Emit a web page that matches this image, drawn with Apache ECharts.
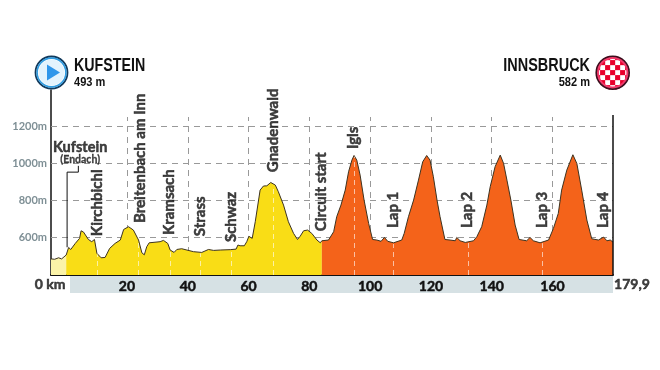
<!DOCTYPE html>
<html><head><meta charset="utf-8">
<style>html,body{margin:0;padding:0;background:#fff}#c{width:660px;height:370px}</style>
<script src="https://cdn.jsdelivr.net/npm/echarts@6/dist/echarts.min.js"></script>
</head><body><div id="c"></div>
<script>
const preStart = [[-5,482],[-4.7,485],[-3.8,480],[-2.5,488],[-1.5,482],[-0.9,481],[0,503]];
const neutralised = [[0,503],[0.8,544],[1.5,533],[3,566],[4.4,593],[4.9,634],[5.7,627],[7.3,587],[8.4,575],[9.3,587],[10.1,512],[11.5,488],[12.8,490],[14.3,539],[16.1,566],[17.8,584],[18.9,641],[20.5,656],[22.1,638],[23.8,584],[24.9,515],[25.7,504],[26.5,548],[27.3,569],[30.9,575],[32,582],[33.4,566],[34.2,530],[35.5,517],[36.4,533],[38,537],[39.7,530],[41.9,521],[44.6,517],[46.8,533],[48.5,528],[50.7,530],[54,532],[55.9,535],[56.5,557],[57.2,553],[57.8,546],[58.6,553],[59.4,575],[60.1,604],[61.2,593],[62.2,683],[63.8,854],[64.9,876],[66,877],[67.3,895],[68.8,881],[69.8,845],[71.5,773],[73.1,683],[74.8,620],[76.1,587],[77,605],[78.1,634],[79.4,638],[80.8,620],[82.5,584],[83.6,569],[84.1,580]];
const circuit = [[84.1,580],[86.3,584],[88,629],[89,710],[90.4,773],[91.8,854],[92.9,953],[94,1016],[94.7,1041],[95.6,1016],[96.7,935],[98,800],[99.5,674],[100.8,587],[102.2,584],[103.6,577],[104.7,598],[105.8,577],[107.7,569],[110.4,584],[111.2,620],[112.6,710],[114.3,800],[115.9,908],[117.3,1007],[118.6,1041],[119.7,1016],[120.8,926],[122,800],[123,710],[124.6,587],[126.3,584],[128,580],[128.5,598],[129.6,580],[131.3,571],[134,580],[135.1,602],[136.7,656],[138.4,773],[139.5,872],[141.1,980],[142.8,1043],[143.9,998],[145,908],[146.3,800],[147.7,665],[149,587],[151.5,580],[152.6,598],[153.7,580],[155.9,569],[158.7,584],[160.3,647],[161.9,728],[163,854],[164.7,962],[166.7,1045],[168,998],[169.6,854],[171.3,692],[172.9,591],[175.1,584],[176.8,600],[177.9,580],[179,584],[179.9,573]];
const townNames = ['Kirchbichl','Breitenbach am Inn','Kramsach','Strass','Schwaz','Gnadenwald','Circuit start','Igls','Lap 1','Lap 2','Lap 3','Lap 4'];
const townKm = [10.1,24.3,33.9,44.1,54.3,68.1,83.9,94.4,107.6,131.9,156.6,176.6];
const townBaseM = [605,676,611,605,573,951,632,1076,649,649,649,649];
const yellowDashKm = [10.1,23.8,34.2,44.1,54.3,68.1];
const orangeDashKm = [94.7,107.7,132.2,156.7];
const kmTicks = [20,40,60,80,100,120,140,160];
const elevTicks = [600,800,1000,1200];
const leaderPath = [[0.3,545],[0.3,951],[4,951],[4,985]];
const FONT = 'Lato,"Liberation Sans",sans-serif';
const MIN = 395, MAX = 1395, GRIDTOP = 1249;

function interp(p, km){
  for(let i=1;i<p.length;i++){ if(km<=p[i][0]){const a=p[i-1],b=p[i];return a[1]+(b[1]-a[1])*(km-a[0])/(b[0]-a[0]);} }
  return p[p.length-1][1];
}
const area = (name,data,color,dashKm) => ({
  type:'line',name,data,showSymbol:false,symbol:'none',z:3,
  lineStyle:{color:'#3d3320',width:1},areaStyle:{color,opacity:1,origin:'start'},
  markLine: dashKm ? {silent:true,symbol:'none',label:{show:false},z:4,
    lineStyle:{color:'rgba(255,255,255,0.6)',type:[5,4],width:1},
    data:dashKm.map(k=>[{coord:[k,MIN]},{coord:[k,interp(data,k)-6]}])} : undefined
});

const chart = echarts.init(document.getElementById('c'),null,{renderer:'canvas'});
const sq = 5;
const checks = [];
for(let i=-3;i<=3;i++)for(let j=-3;j<=3;j++){
  if(Math.hypot(i,j)*sq<16){
    checks.push({type:'rect',x:612.7+(i*sq)-sq/2,y:72.7+(j*sq)-sq/2,
      shape:{width:sq,height:sq},style:{fill:((i+j)%2===0)?'#e8002b':'#ffffff'},z:11});
  }
}
const heavy = {textBorderColor:'#111',textBorderWidth:0.5};
const title = (x,y,text,size,sx,align) => ({type:'text',x,y,scaleX:sx,scaleY:1,style:{x:0,y:0,text,font:'bold '+size+'px "Liberation Sans",sans-serif',fill:'#111',align,verticalAlign:'middle'}});
chart.setOption({
  animation:false,backgroundColor:'#fff',
  grid:{left:51,right:47,top:90,bottom:95},
  xAxis:{type:'value',min:-5,max:179.9,
    axisLine:{show:true,onZero:false,lineStyle:{color:'#111',width:2}},axisTick:{show:false},splitLine:{show:false},
    axisLabel:{customValues:kmTicks,color:'#111',fontFamily:FONT,fontWeight:'bold',fontSize:14,margin:4,...heavy,formatter:v=>String(v)}},
  yAxis:{type:'value',min:MIN,max:MAX,
    axisLine:{show:true,onZero:false,lineStyle:{color:'#111',width:1.5}},axisTick:{show:false},
    axisLabel:{customValues:elevTicks,color:'#7e8f95',fontFamily:FONT,fontWeight:'bold',fontSize:11,margin:4,formatter:v=>v+'m'},
    splitLine:{show:false}},
  graphic:[
    {type:'rect',shape:{x:70,y:276,width:543,height:17},style:{fill:'#d6e1e4'},z:0,silent:true},
    title(74,66,'KUFSTEIN',19,0.75,'left'),
    title(74,82,'493 m',13,0.85,'left'),
    title(590,66,'INNSBRUCK',19,0.76,'right'),
    title(590,82,'582 m',13,0.85,'right'),
    {type:'circle',shape:{cx:51.5,cy:72.5,r:16},style:{fill:'#ffffff',stroke:'#123a5c',lineWidth:1.8},z:10},
    {type:'circle',shape:{cx:51.5,cy:72.5,r:14.4},style:{fill:'none',stroke:'#2f9be0',lineWidth:1.6},z:10},
    {type:'circle',shape:{cx:51.5,cy:72.5,r:13},style:{fill:'#e3f3fd'},z:10},
    {type:'polygon',shape:{points:[[47,64.5],[47,80.5],[60,72.5]]},style:{fill:'#2f96ea'},z:11},
    {type:'circle',shape:{cx:612.7,cy:72.7,r:16},style:{fill:'#f0396a'},z:10},
    ...checks,
    {type:'circle',shape:{cx:612.7,cy:72.7,r:19.5},style:{fill:'none',stroke:'#ffffff',lineWidth:5},z:12},
    {type:'circle',shape:{cx:612.7,cy:72.7,r:15},style:{fill:'none',stroke:'#f0396a',lineWidth:2.5},z:12},
    {type:'circle',shape:{cx:612.7,cy:72.7,r:16.5},style:{fill:'none',stroke:'#3a0d1c',lineWidth:1.6},z:13}
  ],
  series:[
    {type:'line',name:'grid',data:[],z:1,silent:true,markLine:{silent:true,symbol:'none',label:{show:false},z:1,
      lineStyle:{color:'#999',type:[6,5],width:1},
      data:[...elevTicks.map(m=>[{coord:[-5,m]},{coord:[179.9,m]}]),...kmTicks.map(k=>[{coord:[k,MIN]},{coord:[k,GRIDTOP]}])]}},
    {type:'line',name:'endAxis',data:[[179.9,MIN],[179.9,1260]],symbol:'none',z:6,silent:true,lineStyle:{color:'#111',width:1.5}},
    area('Before start',preStart,'#fbf3a8'),
    area('To circuit',neutralised,'#f9dd16',yellowDashKm),
    area('Circuit',circuit,'#f4631a',orangeDashKm),
    {type:'line',name:'leader',data:leaderPath,symbol:'none',z:6,silent:true,lineStyle:{color:'#111',width:1}},
    {type:'scatter',name:'places',symbolSize:0,z:7,silent:true,clip:false,
      data:townKm.map((k,i)=>({value:[k,townBaseM[i]],name:townNames[i]})),
      label:{show:true,formatter:p=>p.name,rotate:90,position:'inside',align:'left',verticalAlign:'middle',
        color:'#111',fontFamily:FONT,fontWeight:'bold',fontSize:15,...heavy}},
    {type:'scatter',name:'start',symbolSize:0,z:7,silent:true,clip:false,
      data:[{value:[4.6,1054],name:'Kufstein'}],
      label:{show:true,position:'inside',formatter:()=>'{a|Kufstein}\n{b|(Endach)}',
        rich:{a:{color:'#111',fontFamily:FONT,fontWeight:'bold',fontSize:14.5,lineHeight:14,align:'center',...heavy},
              b:{color:'#111',fontFamily:FONT,fontWeight:'bold',fontSize:10.5,lineHeight:11,align:'center',textBorderColor:'#111',textBorderWidth:0.3}}}},
    {type:'scatter',name:'ends',symbolSize:0,z:7,silent:true,clip:false,
      data:[{value:[-5,MIN],name:'0 km',label:{offset:[-1,1]}},{value:[179.9,MIN],name:'179,9',label:{offset:[19,1]}}],
      label:{show:true,position:'bottom',distance:1,formatter:p=>p.name,color:'#111',fontFamily:FONT,fontWeight:'bold',fontSize:14,...heavy}}
  ]
});
</script></body></html>
